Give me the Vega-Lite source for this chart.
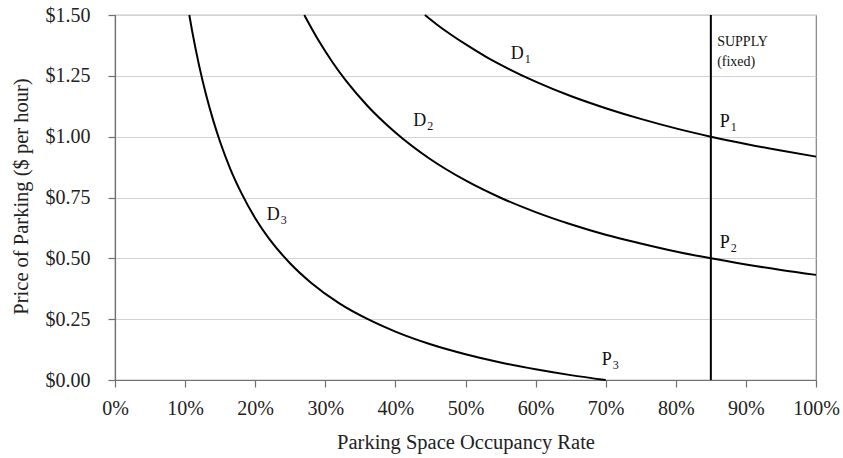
{
  "$schema": "https://vega.github.io/schema/vega-lite/v6.json",
  "width": 701,
  "height": 365,
  "autosize": "none",
  "padding": {"left": 115, "top": 15, "right": 27, "bottom": 78},
  "background": "white",
  "config": {
    "font": "Liberation Serif",
    "view": {"stroke": "#808080", "strokeWidth": 1.2},
    "axis": {
      "labelFont": "Liberation Serif",
      "titleFont": "Liberation Serif",
      "labelFontSize": 20,
      "titleFontSize": 20.5,
      "labelColor": "#222",
      "titleColor": "#222",
      "titleFontWeight": "normal",
      "domainColor": "#707070",
      "domainWidth": 1.2,
      "tickColor": "#707070",
      "tickWidth": 1.2,
      "gridColor": "#d2d2d2",
      "tickSize": 7,
      "labelFlush": false,
      "labelOverlap": false
    }
  },
  "datasets": {
    "curves": [
      {"curve": "D1", "occupancy": 0.442, "price": 1.5},
      {"curve": "D1", "occupancy": 0.46, "price": 1.459},
      {"curve": "D1", "occupancy": 0.48, "price": 1.418},
      {"curve": "D1", "occupancy": 0.50, "price": 1.38},
      {"curve": "D1", "occupancy": 0.53, "price": 1.327},
      {"curve": "D1", "occupancy": 0.56, "price": 1.281},
      {"curve": "D1", "occupancy": 0.60, "price": 1.226},
      {"curve": "D1", "occupancy": 0.65, "price": 1.167},
      {"curve": "D1", "occupancy": 0.70, "price": 1.117},
      {"curve": "D1", "occupancy": 0.75, "price": 1.073},
      {"curve": "D1", "occupancy": 0.80, "price": 1.034},
      {"curve": "D1", "occupancy": 0.85, "price": 1.0},
      {"curve": "D1", "occupancy": 0.90, "price": 0.97},
      {"curve": "D1", "occupancy": 0.95, "price": 0.943},
      {"curve": "D1", "occupancy": 1.0, "price": 0.918},
      {"curve": "D2", "occupancy": 0.27, "price": 1.5},
      {"curve": "D2", "occupancy": 0.29, "price": 1.397},
      {"curve": "D2", "occupancy": 0.31, "price": 1.307},
      {"curve": "D2", "occupancy": 0.33, "price": 1.228},
      {"curve": "D2", "occupancy": 0.36, "price": 1.127},
      {"curve": "D2", "occupancy": 0.40, "price": 1.017},
      {"curve": "D2", "occupancy": 0.45, "price": 0.907},
      {"curve": "D2", "occupancy": 0.50, "price": 0.82},
      {"curve": "D2", "occupancy": 0.55, "price": 0.749},
      {"curve": "D2", "occupancy": 0.60, "price": 0.69},
      {"curve": "D2", "occupancy": 0.65, "price": 0.64},
      {"curve": "D2", "occupancy": 0.70, "price": 0.597},
      {"curve": "D2", "occupancy": 0.75, "price": 0.561},
      {"curve": "D2", "occupancy": 0.80, "price": 0.528},
      {"curve": "D2", "occupancy": 0.85, "price": 0.5},
      {"curve": "D2", "occupancy": 0.90, "price": 0.475},
      {"curve": "D2", "occupancy": 0.95, "price": 0.452},
      {"curve": "D2", "occupancy": 1.0, "price": 0.432},
      {"curve": "D3", "occupancy": 0.106, "price": 1.5},
      {"curve": "D3", "occupancy": 0.11, "price": 1.435},
      {"curve": "D3", "occupancy": 0.12, "price": 1.292},
      {"curve": "D3", "occupancy": 0.13, "price": 1.171},
      {"curve": "D3", "occupancy": 0.14, "price": 1.068},
      {"curve": "D3", "occupancy": 0.15, "price": 0.978},
      {"curve": "D3", "occupancy": 0.165, "price": 0.864},
      {"curve": "D3", "occupancy": 0.18, "price": 0.77},
      {"curve": "D3", "occupancy": 0.20, "price": 0.665},
      {"curve": "D3", "occupancy": 0.22, "price": 0.58},
      {"curve": "D3", "occupancy": 0.25, "price": 0.479},
      {"curve": "D3", "occupancy": 0.28, "price": 0.399},
      {"curve": "D3", "occupancy": 0.32, "price": 0.315},
      {"curve": "D3", "occupancy": 0.36, "price": 0.251},
      {"curve": "D3", "occupancy": 0.40, "price": 0.199},
      {"curve": "D3", "occupancy": 0.45, "price": 0.147},
      {"curve": "D3", "occupancy": 0.50, "price": 0.106},
      {"curve": "D3", "occupancy": 0.55, "price": 0.072},
      {"curve": "D3", "occupancy": 0.60, "price": 0.044},
      {"curve": "D3", "occupancy": 0.65, "price": 0.02},
      {"curve": "D3", "occupancy": 0.70, "price": 0.0}
    ],
    "supply": [
      {"occupancy": 0.85, "low": 0, "high": 1.5}
    ],
    "labels": [
      {"occupancy": 0.583, "price": 1.32, "letter": "D", "sub": "1"},
      {"occupancy": 0.444, "price": 1.044, "letter": "D", "sub": "2"},
      {"occupancy": 0.235, "price": 0.658, "letter": "D", "sub": "3"},
      {"occupancy": 0.877, "price": 1.041, "letter": "P", "sub": "1"},
      {"occupancy": 0.877, "price": 0.544, "letter": "P", "sub": "2"},
      {"occupancy": 0.7085, "price": 0.062, "letter": "P", "sub": "3"}
    ],
    "notes": [
      {"occupancy": 0.859, "price": 1.373, "text": "SUPPLY"},
      {"occupancy": 0.859, "price": 1.29, "text": "(fixed)"}
    ]
  },
  "layer": [
    {
      "data": {"name": "curves"},
      "mark": {"type": "line", "interpolate": "monotone", "color": "black", "strokeWidth": 2},
      "encoding": {
        "x": {
          "field": "occupancy",
          "type": "quantitative",
          "scale": {"domain": [0, 1], "nice": false},
          "axis": {
            "values": [0, 0.1, 0.2, 0.3, 0.4, 0.5, 0.6, 0.7, 0.8, 0.9, 1.0],
            "format": ".0%",
            "grid": false,
            "labelPadding": 11,
            "title": "Parking Space Occupancy Rate",
            "titleY": 68,
            "titleBaseline": "alphabetic"
          }
        },
        "y": {
          "field": "price",
          "type": "quantitative",
          "scale": {"domain": [0, 1.5], "nice": false},
          "axis": {
            "values": [0, 0.25, 0.5, 0.75, 1.0, 1.25, 1.5],
            "format": "$.2f",
            "grid": true,
            "labelPadding": 18,
            "title": "Price of Parking ($ per hour)",
            "titleX": -94,
            "titleY": 181,
            "titleAngle": -90,
            "titleAlign": "center",
            "titleBaseline": "middle"
          }
        },
        "detail": {"field": "curve"}
      }
    },
    {
      "data": {"name": "supply"},
      "mark": {"type": "rule", "color": "black", "strokeWidth": 2},
      "encoding": {
        "x": {"field": "occupancy", "type": "quantitative"},
        "y": {"field": "low", "type": "quantitative"},
        "y2": {"field": "high"}
      }
    },
    {
      "data": {"name": "labels"},
      "mark": {"type": "text", "align": "right", "baseline": "alphabetic", "font": "Liberation Serif", "fontSize": 18, "color": "#111"},
      "encoding": {
        "x": {"field": "occupancy", "type": "quantitative"},
        "y": {"field": "price", "type": "quantitative"},
        "text": {"field": "letter"}
      }
    },
    {
      "data": {"name": "labels"},
      "mark": {"type": "text", "align": "left", "baseline": "alphabetic", "font": "Liberation Serif", "fontSize": 12, "dx": 1, "dy": 4, "color": "#111"},
      "encoding": {
        "x": {"field": "occupancy", "type": "quantitative"},
        "y": {"field": "price", "type": "quantitative"},
        "text": {"field": "sub"}
      }
    },
    {
      "data": {"name": "notes"},
      "mark": {"type": "text", "align": "left", "baseline": "alphabetic", "font": "Liberation Serif", "fontSize": 14, "color": "#111"},
      "encoding": {
        "x": {"field": "occupancy", "type": "quantitative"},
        "y": {"field": "price", "type": "quantitative"},
        "text": {"field": "text"}
      }
    }
  ]
}
